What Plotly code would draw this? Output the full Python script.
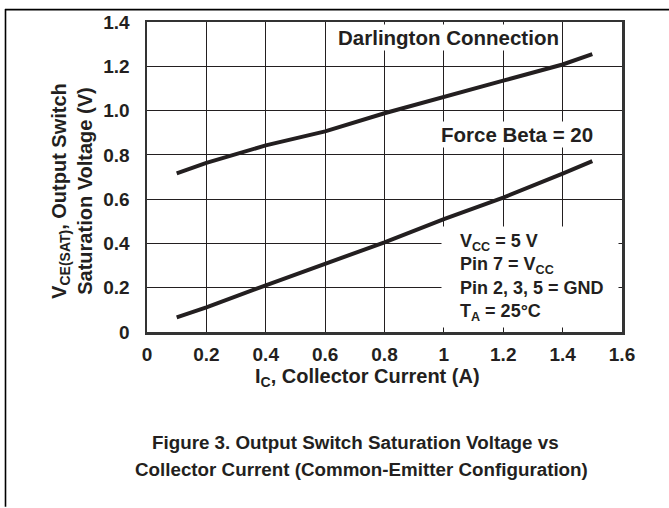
import plotly.graph_objects as go

# ---- data ----
ic = [0.1, 0.2, 0.4, 0.6, 0.8, 1.0, 1.2, 1.4, 1.5]
vsat_darlington = [0.716, 0.764, 0.843, 0.906, 0.988, 1.063, 1.135, 1.208, 1.255]
vsat_beta20 = [0.066, 0.111, 0.211, 0.310, 0.405, 0.510, 0.607, 0.715, 0.772]

x_tickvals = [0, 0.2, 0.4, 0.6, 0.8, 1.0, 1.2, 1.4, 1.6]
x_ticktext = ["0", "0.2", "0.4", "0.6", "0.8", "1", "1.2", "1.4", "1.6"]
y_tickvals = [0, 0.2, 0.4, 0.6, 0.8, 1.0, 1.2, 1.4]
y_ticktext = ["0", "0.2", "0.4", "0.6", "0.8", "1.0", "1.2", "1.4"]

W, H = 669, 508
L, R, T, B = 147, 47, 20, 176
PW, PH = W - L - R, H - T - B
INK = "#231f20"
FAM = "Liberation Sans, Arial, Helvetica, sans-serif"


def px(xp):
    return (xp - L) / PW


def py(yp):
    return (H - B - yp) / PH


def f(size):
    return dict(family=FAM, size=size, color=INK, weight="bold")


fig = go.Figure()
fig.add_trace(go.Scatter(x=ic, y=vsat_darlington, mode="lines",
                         line=dict(color=INK, width=4), showlegend=False, hoverinfo="skip"))
fig.add_trace(go.Scatter(x=ic, y=vsat_beta20, mode="lines",
                         line=dict(color=INK, width=4), showlegend=False, hoverinfo="skip"))

axis_common = dict(showgrid=True, gridcolor=INK, gridwidth=1, zeroline=False,
                   showline=True, linecolor="#333333", linewidth=2.5, mirror=True,
                   ticks="", tickfont=f(19))
fig.update_xaxes(range=[0, 1.6], tickvals=x_tickvals, ticktext=x_ticktext,
                 ticklabelstandoff=4, **axis_common)
fig.update_yaxes(range=[0, 1.4], tickvals=y_tickvals, ticktext=y_ticktext,
                 ticklabelstandoff=11, **axis_common)

C = dict(xanchor="center", yanchor="middle", showarrow=False)
ann = []
ann.append(dict(x=1.015, y=1.332, xref="x", yref="y", text="Darlington Connection",
                bgcolor="white", borderpad=1, font=f(20.5), **C))
ann.append(dict(x=1.247, y=0.893, xref="x", yref="y", text="Force Beta = 20",
                bgcolor="white", borderpad=1, font=f(20.5), **C))
# blank background box behind the conditions text
ann.append(dict(x=1.291, y=0.247, xref="x", yref="y", text=" ", width=176, height=100,
                bgcolor="white", borderpad=0, font=f(18), **C))
ann.append(dict(x=1.049, y=0.248, xref="x", yref="y", xanchor="left", yanchor="middle",
                align="left", showarrow=False, font=f(18),
                text="V<sub>CC</sub> = 5 V<br>Pin 7 = V<sub>CC</sub><br>Pin 2, 3, 5 = GND<br>T<sub>A</sub> = 25°C"))
# axis titles
ann.append(dict(x=px(367.5), y=py(378), xref="paper", yref="paper",
                text="I<sub>C</sub>, Collector Current (A)", font=f(20), **C))
ann.append(dict(x=px(72), y=py(190), xref="paper", yref="paper", textangle=-90,
                text="V<sub>CE(SAT)</sub>, Output Switch<br>Saturation Voltage (V)", font=f(20), **C))
# caption (two lines)
ann.append(dict(x=px(355), y=py(443), xref="paper", yref="paper",
                text="Figure 3. Output Switch Saturation Voltage vs", font=f(18.8), **C))
ann.append(dict(x=px(361), y=py(470), xref="paper", yref="paper",
                text="Collector Current (Common-Emitter Configuration)", font=f(18.8), **C))

# page frame (top and left rules)
shapes = [
    dict(type="line", xref="paper", yref="paper", x0=px(5.5), x1=px(5.5), y0=py(508), y1=py(7),
         line=dict(color="black", width=1.6), layer="above"),
    dict(type="line", xref="paper", yref="paper", x0=px(5), x1=px(669), y0=py(7.5), y1=py(7.5),
         line=dict(color="black", width=1.6), layer="above"),
]

fig.update_layout(width=W, height=H, margin=dict(l=L, r=R, t=T, b=B, pad=0),
                  paper_bgcolor="white", plot_bgcolor="white", hovermode=False,
                  font=f(18), annotations=ann, shapes=shapes, showlegend=False)

fig.write_html("out.html", config={"displayModeBar": False, "staticPlot": True},
               post_script="document.body.style.margin='0px';document.body.style.padding='0px';")
